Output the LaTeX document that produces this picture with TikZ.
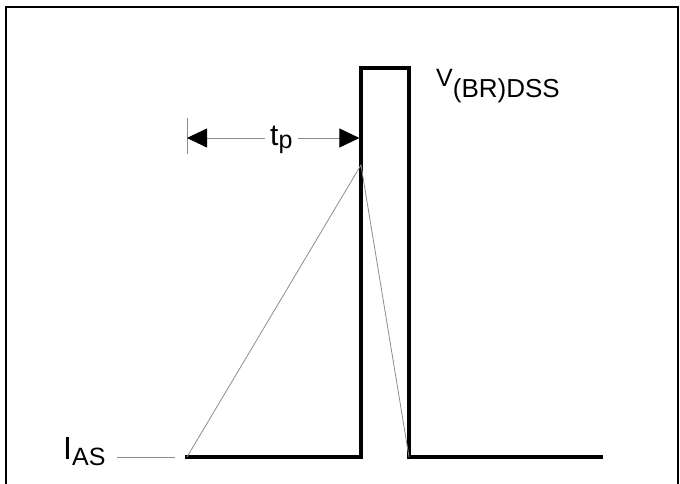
\documentclass[tikz,border=0pt]{standalone}
\usepackage{fontspec}
\setmainfont{Liberation Sans}
\usetikzlibrary{arrows.meta}
\begin{document}
\begin{tikzpicture}[x=1pt,y=-1pt,
  wave/.style={line width=3.2pt,line join=miter,line cap=rect},
  thin/.style={line width=0.8pt,draw=black!45},
  frame/.style={line width=2.2pt},
  lbl/.style={anchor=base west,inner sep=0pt},
  tiparrow/.style={-{Triangle[length=20pt,width=19pt,color=black,fill=black]}}]
\useasboundingbox (0,0) rectangle (680,484);
% frame
\draw[frame] (6,486) -- (6,7) -- (678,7) -- (678,486);
% waveform points
\coordinate (s) at (187,457);
\coordinate (a) at (361,457);
\coordinate (b) at (361,68);
\coordinate (c) at (409,68);
\coordinate (d) at (409,457);
\coordinate (e) at (601,457);
\coordinate (pk) at (361,165);
\draw[wave] (s) -- (a) -- (b) -- (c) -- (d) -- (e);
\draw[thin] (s) -- (pk) -- (d);
% I_AS label
\node[lbl] (ias) at (63,459) {\fontsize{32}{32}\selectfont I\raisebox{-6pt}{\fontsize{25}{25}\selectfont AS}};
\coordinate (d1) at (117,457);
\coordinate (d2) at (175,457);
\draw[thin] (d1) -- (d2);
% V(BR)DSS label
\node[lbl] (v) at (436,87) {\fontsize{25}{25}\selectfont V\raisebox{-11pt}{\fontsize{26}{26}\selectfont (BR)DSS}};
% t_p
\node[anchor=base west,inner xsep=5pt,inner ysep=0pt] (tp) at (265,146) {\fontsize{30}{30}\selectfont t\raisebox{-3pt}{\fontsize{25}{25}\selectfont p}};
\coordinate (tick) at (187,138);
\coordinate (tickt) at (187,118);
\coordinate (tickb) at (187,154);
\coordinate (rtip) at (359.4,138);
\draw[thin] (tickt) -- (tickb);
\draw[thin,tiparrow] (tp.west |- tick) -- (tick);
\draw[thin,tiparrow] (tp.east |- tick) -- (rtip);
\end{tikzpicture}
\end{document}
